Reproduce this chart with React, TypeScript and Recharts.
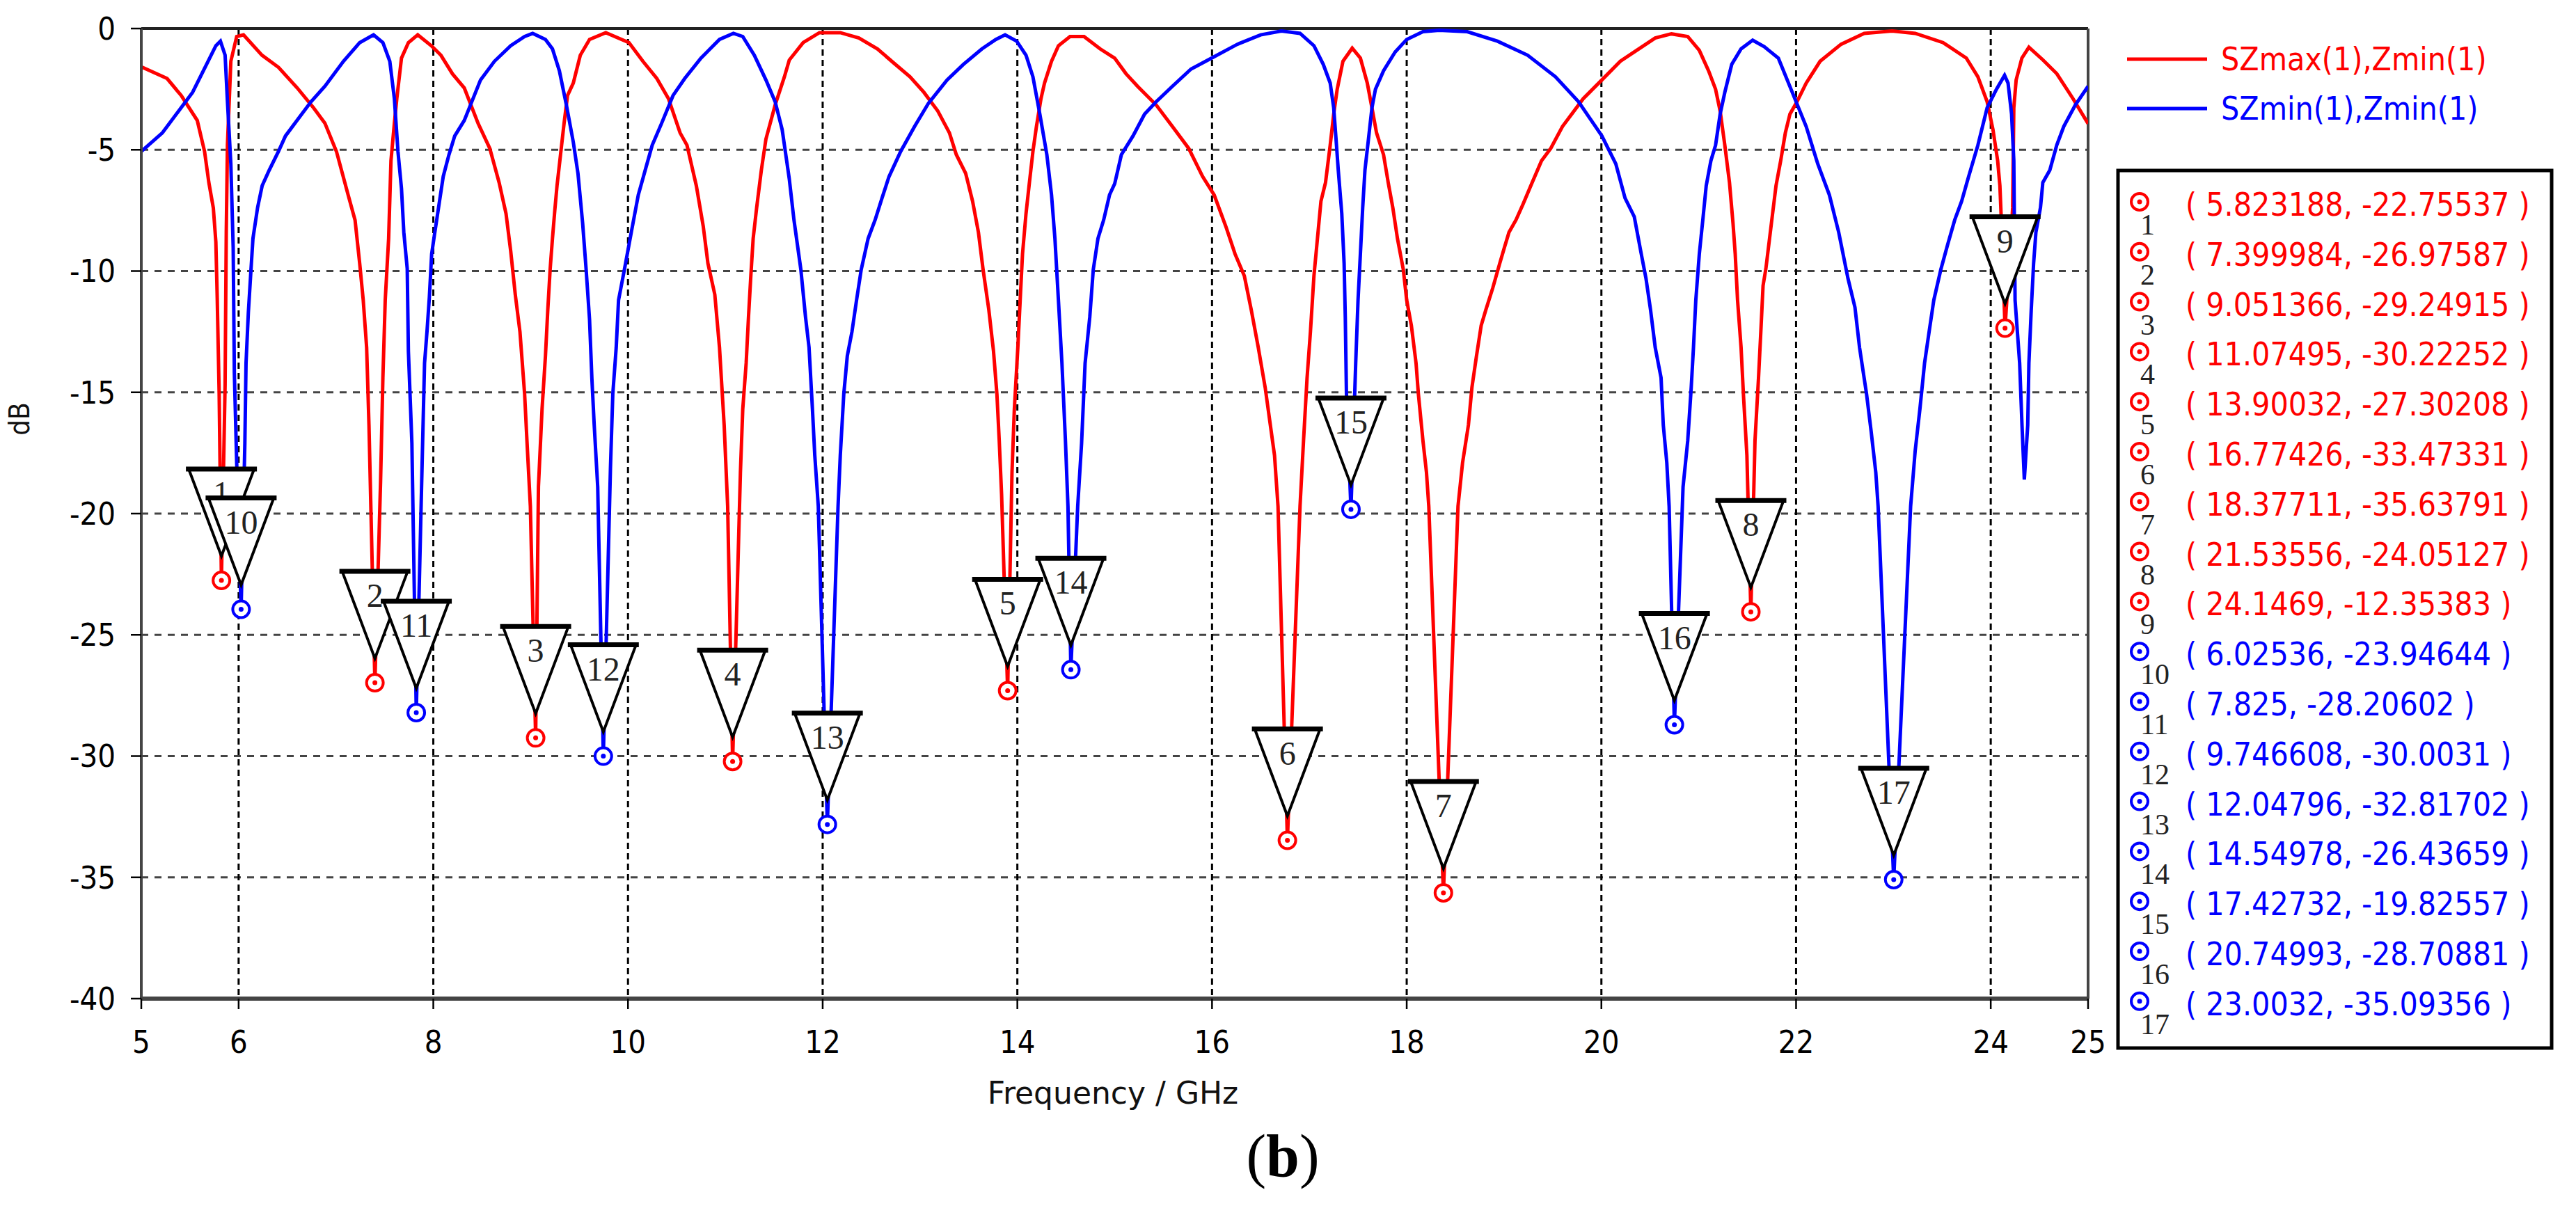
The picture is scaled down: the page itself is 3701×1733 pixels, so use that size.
import React from 'react';
import { ComposedChart, Line, Scatter, XAxis, YAxis, CartesianGrid, ReferenceLine } from 'recharts';

// ---- data (frequency GHz, dB) ----
const seriesNames = ['SZmax(1),Zmin(1)', 'SZmin(1),Zmin(1)'];
const seriesColors = ['#ff0000', '#0000ff'];

const redCurve: [number, number][] = [
  [5.0, -1.58], [5.265, -2.06], [5.41, -2.76], [5.575, -3.79], [5.65, -5.07], [5.694, -6.35], [5.74, -7.4],
  [5.766, -8.8], [5.78, -11.1], [5.8, -15.07], [5.823188, -22.75537], [5.861, -14.7], [5.873, -8.4],
  [5.885, -4.8], [5.92, -1.35], [5.98, -0.33], [6.05, -0.26], [6.24, -1.1], [6.41, -1.6], [6.6, -2.44],
  [6.77, -3.27], [6.886, -3.9], [7.005, -5.07], [7.125, -6.86], [7.196, -7.9], [7.244, -9.7], [7.28, -11.2],
  [7.315, -13.15], [7.339, -16.35], [7.399984, -26.97587], [7.458, -18.7], [7.482, -14.4], [7.506, -11.2],
  [7.541, -8.66], [7.565, -5.45], [7.6, -3.9], [7.625, -2.89], [7.673, -1.22], [7.744, -0.58], [7.84, -0.26],
  [7.98, -0.71], [8.078, -1.1], [8.197, -1.87], [8.318, -2.45], [8.461, -3.92], [8.58, -4.94], [8.676, -6.35],
  [8.747, -7.63], [8.795, -9.17], [8.842, -10.97], [8.89, -12.5], [8.938, -15.07], [8.962, -17], [8.997, -19.7],
  [9.051366, -29.24915], [9.08, -18.9], [9.117, -15.7], [9.152, -13.5], [9.176, -11.6], [9.2, -9.94],
  [9.224, -8.66], [9.248, -7.5], [9.271, -6.48], [9.307, -5.2], [9.343, -3.92], [9.379, -2.76], [9.438, -2.25],
  [9.51, -1.1], [9.605, -0.45], [9.772, -0.17], [10.01, -0.58], [10.153, -1.35], [10.296, -2.06],
  [10.416, -2.89], [10.535, -4.3], [10.606, -4.81], [10.702, -6.48], [10.773, -8.15], [10.821, -9.68],
  [10.892, -10.97], [10.94, -13.15], [10.988, -16.35], [11.024, -19.7], [11.07495, -30.22252], [11.155, -18.3],
  [11.179, -15.7], [11.214, -13.8], [11.238, -11.9], [11.262, -10.2], [11.286, -8.66], [11.322, -7.38],
  [11.37, -5.84], [11.417, -4.56], [11.512, -3.15], [11.607, -1.99], [11.657, -1.3], [11.8, -0.58],
  [11.967, -0.17], [12.181, -0.17], [12.372, -0.39], [12.563, -0.84], [12.73, -1.42], [12.897, -1.99],
  [13.04, -2.63], [13.183, -3.4], [13.302, -4.3], [13.373, -5.2], [13.469, -5.97], [13.54, -7.12], [13.6, -8.4],
  [13.648, -9.94], [13.707, -11.6], [13.755, -13.3], [13.79, -15.07], [13.814, -17], [13.838, -19.2],
  [13.90032, -27.30208], [13.945, -18.3], [13.969, -15.7], [14.005, -13.15], [14.029, -11.2], [14.053, -9.3],
  [14.089, -7.63], [14.124, -6.35], [14.16, -5.07], [14.196, -4.04], [14.243, -2.89], [14.279, -2.25],
  [14.351, -1.35], [14.422, -0.71], [14.541, -0.33], [14.685, -0.33], [14.851, -0.84], [15.0, -1.22],
  [15.116, -1.86], [15.235, -2.38], [15.426, -3.15], [15.593, -4.04], [15.76, -4.94], [15.903, -6.1],
  [16.022, -6.86], [16.141, -8.15], [16.237, -9.3], [16.332, -10.2], [16.403, -11.6], [16.475, -13.15],
  [16.546, -14.8], [16.594, -16.2], [16.642, -17.6], [16.678, -19.7], [16.77426, -33.47331], [16.904, -19.7],
  [16.94, -17], [16.976, -14.43], [17.011, -12.5], [17.047, -10.2], [17.083, -8.66], [17.119, -7.12],
  [17.166, -6.35], [17.214, -4.81], [17.25, -3.53], [17.286, -2.5], [17.345, -1.35], [17.44, -0.81],
  [17.524, -1.22], [17.595, -2.25], [17.643, -3.27], [17.69, -4.3], [17.762, -5.2], [17.81, -6.35],
  [17.857, -7.38], [17.905, -8.66], [17.965, -9.94], [18.0, -11.2], [18.048, -12.25], [18.096, -13.8],
  [18.12, -15.07], [18.167, -17], [18.203, -18.3], [18.227, -19.7], [18.37711, -35.63791], [18.527, -19.7],
  [18.574, -17.9], [18.634, -16.35], [18.67, -14.8], [18.717, -13.5], [18.765, -12.25], [18.813, -11.6],
  [18.884, -10.7], [18.956, -9.68], [19.003, -9.04], [19.051, -8.4], [19.123, -7.89], [19.194, -7.25],
  [19.289, -6.35], [19.385, -5.45], [19.48, -4.94], [19.6, -4.04], [19.695, -3.53], [19.814, -2.89],
  [20.005, -2.12], [20.195, -1.35], [20.362, -0.9], [20.553, -0.39], [20.72, -0.22], [20.887, -0.33],
  [21.006, -0.9], [21.101, -1.74], [21.173, -2.5], [21.22, -3.4], [21.268, -4.81], [21.316, -6.35],
  [21.352, -8.02], [21.375, -9.3], [21.399, -11.2], [21.435, -13.15], [21.459, -15.07], [21.495, -17.6],
  [21.53556, -24.05127], [21.578, -17], [21.614, -14.43], [21.638, -12.5], [21.661, -10.6], [21.69, -9.9],
  [21.747, -8.02], [21.794, -6.48], [21.842, -5.45], [21.89, -4.3], [21.937, -3.53], [22.009, -3.02],
  [22.104, -2.25], [22.247, -1.35], [22.462, -0.65], [22.7, -0.2], [22.986, -0.1], [23.224, -0.2],
  [23.51, -0.58], [23.749, -1.22], [23.868, -1.99], [23.963, -3.02], [24.023, -4.17], [24.071, -5.45],
  [24.094, -6.48], [24.106, -7.63], [24.1469, -12.35383], [24.225, -7.4], [24.237, -3.27], [24.261, -2.12],
  [24.32, -1.22], [24.392, -0.77], [24.535, -1.29], [24.678, -1.86], [24.845, -2.89], [25.0, -3.92],
];

const blueCurve: [number, number][] = [
  [5.0, -5.07], [5.217, -4.3], [5.384, -3.4], [5.527, -2.63], [5.67, -1.48], [5.766, -0.71], [5.813, -0.52],
  [5.861, -1.1], [5.885, -3.0], [5.92, -5.58], [5.944, -9.04], [5.956, -14.2], [5.98, -17.9],
  [6.02536, -23.94644], [6.064, -17.1], [6.076, -13.8], [6.1, -11.7], [6.123, -10.2], [6.147, -8.66],
  [6.195, -7.38], [6.242, -6.48], [6.314, -5.84], [6.409, -5.07], [6.481, -4.43], [6.6, -3.79], [6.743, -3.02],
  [6.886, -2.38], [7.077, -1.35], [7.244, -0.58], [7.386, -0.26], [7.482, -0.58], [7.553, -1.35], [7.6, -2.89],
  [7.637, -5.07], [7.673, -6.6], [7.697, -8.4], [7.732, -9.9], [7.744, -13.3], [7.78, -17.1], [7.825, -28.20602],
  [7.887, -17.6], [7.91, -13.8], [7.935, -12.5], [7.959, -11.1], [7.983, -9.3], [8.006, -8.66], [8.054, -7.38],
  [8.102, -6.1], [8.161, -5.2], [8.22, -4.43], [8.318, -3.79], [8.485, -2.12], [8.628, -1.35], [8.795, -0.71],
  [8.938, -0.33], [9.021, -0.2], [9.152, -0.45], [9.224, -0.84], [9.295, -1.74], [9.367, -3.15], [9.438, -4.68],
  [9.486, -5.97], [9.534, -8.02], [9.57, -9.94], [9.605, -12], [9.629, -14.43], [9.653, -16.35], [9.689, -18.9],
  [9.746608, -30.0031], [9.82, -18.1], [9.844, -15.07], [9.879, -13.15], [9.903, -11.2], [9.963, -9.94],
  [10.034, -8.4], [10.106, -6.86], [10.177, -5.84], [10.249, -4.81], [10.344, -3.92], [10.463, -2.76],
  [10.583, -2.06], [10.75, -1.22], [10.94, -0.45], [11.083, -0.2], [11.179, -0.33], [11.298, -1.1],
  [11.417, -2.12], [11.512, -3.02], [11.584, -4.17], [11.657, -6.2], [11.705, -7.89], [11.776, -9.94],
  [11.824, -11.9], [11.86, -13.15], [11.895, -15.7], [11.919, -17.6], [11.955, -19.7], [12.04796, -32.81702],
  [12.158, -19.7], [12.181, -17.6], [12.217, -15.07], [12.253, -13.5], [12.301, -12.5], [12.348, -11.2],
  [12.396, -9.94], [12.467, -8.66], [12.539, -7.89], [12.61, -6.99], [12.682, -6.1], [12.801, -5.07],
  [12.944, -4.04], [13.087, -3.08], [13.278, -2.12], [13.445, -1.48], [13.636, -0.84], [13.779, -0.45],
  [13.874, -0.26], [13.993, -0.52], [14.089, -1.1], [14.16, -1.99], [14.231, -3.53], [14.303, -5.2],
  [14.351, -6.86], [14.386, -8.66], [14.422, -11.2], [14.458, -13.8], [14.494, -17], [14.52, -19.7],
  [14.54978, -26.43659], [14.62, -19.7], [14.66, -17.1], [14.696, -13.8], [14.744, -11.9], [14.78, -9.94],
  [14.828, -8.66], [14.887, -7.89], [14.947, -6.86], [15.0, -6.4], [15.069, -5.2], [15.188, -4.43],
  [15.307, -3.53], [15.426, -3.02], [15.593, -2.38], [15.784, -1.67], [16.022, -1.16], [16.26, -0.65],
  [16.499, -0.26], [16.713, -0.1], [16.904, -0.2], [17.047, -0.71], [17.143, -1.48], [17.214, -2.25],
  [17.25, -3.27], [17.274, -4.56], [17.297, -5.84], [17.333, -7.63], [17.357, -9.68], [17.369, -11.9],
  [17.381, -15.07], [17.42732, -19.82557], [17.476, -13.8], [17.5, -11.2], [17.524, -9.3], [17.548, -7.38],
  [17.571, -5.84], [17.607, -4.56], [17.643, -3.27], [17.679, -2.5], [17.762, -1.74], [17.881, -0.97],
  [18.0, -0.45], [18.167, -0.13], [18.334, -0.07], [18.622, -0.13], [18.932, -0.52], [19.242, -1.1],
  [19.528, -1.99], [19.766, -3.02], [20.005, -4.43], [20.148, -5.58], [20.243, -6.99], [20.338, -7.76],
  [20.41, -9.3], [20.458, -10.3], [20.505, -11.6], [20.553, -13.15], [20.613, -14.4], [20.636, -16.35],
  [20.672, -17.9], [20.696, -19.7], [20.74993, -28.70881], [20.839, -18.9], [20.887, -17], [20.923, -14.8],
  [20.946, -13.15], [20.97, -11.2], [21.006, -9.3], [21.042, -7.89], [21.077, -6.48], [21.125, -5.45],
  [21.173, -4.81], [21.22, -3.53], [21.268, -2.63], [21.339, -1.48], [21.435, -0.84], [21.554, -0.48],
  [21.673, -0.75], [21.818, -1.22], [21.961, -2.63], [22.104, -4.04], [22.223, -5.58], [22.342, -6.86],
  [22.438, -8.4], [22.533, -10.3], [22.605, -11.5], [22.652, -13.15], [22.724, -15.07], [22.771, -16.6],
  [22.819, -18.3], [22.843, -19.7], [23.0032, -35.09356], [23.177, -19.7], [23.224, -17.4], [23.272, -15.7],
  [23.32, -13.8], [23.367, -12.5], [23.415, -11.2], [23.487, -9.94], [23.558, -8.9], [23.63, -7.89],
  [23.701, -7.12], [23.773, -6.1], [23.868, -4.81], [23.963, -3.27], [24.059, -2.5], [24.142, -1.93],
  [24.178, -2.25], [24.214, -3.53], [24.237, -5.45], [24.25, -11.2], [24.297, -13.8], [24.321, -16.35],
  [24.345, -18.6], [24.38, -16.35], [24.392, -13.8], [24.416, -11.6], [24.44, -9.7], [24.464, -8.4],
  [24.511, -7.38], [24.535, -6.35], [24.607, -5.84], [24.678, -4.81], [24.75, -4.04], [24.869, -3.15],
  [25.0, -2.38],
];

const markerIds = [1, 2, 3, 4, 5, 6, 7, 8, 9, 10, 11, 12, 13, 14, 15, 16, 17];
const markerFreq = [5.823188, 7.399984, 9.051366, 11.07495, 13.90032, 16.77426, 18.37711, 21.53556, 24.1469,
  6.02536, 7.825, 9.746608, 12.04796, 14.54978, 17.42732, 20.74993, 23.0032];
const markerDb = [-22.75537, -26.97587, -29.24915, -30.22252, -27.30208, -33.47331, -35.63791, -24.05127, -12.35383,
  -23.94644, -28.20602, -30.0031, -32.81702, -26.43659, -19.82557, -28.70881, -35.09356];
const markerSeries = [0, 0, 0, 0, 0, 0, 0, 0, 0, 1, 1, 1, 1, 1, 1, 1, 1];

const xTicks = [5, 6, 8, 10, 12, 14, 16, 18, 20, 22, 24, 25];
const yTicks = [0, -5, -10, -15, -20, -25, -30, -35, -40];
const xTitle = 'Frequency / GHz';
const yTitle = 'dB';
const caption = 'b';

// ---- derived tables ----
const redData = redCurve.map(([f, db]) => ({ f, db }));
const blueData = blueCurve.map(([f, db]) => ({ f, db }));
const markerData = markerIds.map((id, i) => ({ id, f: markerFreq[i], db: markerDb[i], s: markerSeries[i] }));

const W = 3701;
const H = 1733;
const SANS = '"DejaVu Sans Condensed", "DejaVu Sans", sans-serif';
const SERIF = '"Liberation Serif", "DejaVu Serif", serif';

const MarkerShape = (props: any) => {
  const { cx, cy, payload } = props;
  if (cx == null || cy == null) return null;
  const color = seriesColors[payload.s];
  const tip = cy - 35;
  const top = cy - 160;
  const hw = 47;
  return (
    <g>
      <polygon
        points={`${cx - hw},${top} ${cx + hw},${top} ${cx},${tip}`}
        fill="#ffffff"
        stroke="#000"
        strokeWidth={4}
        strokeLinejoin="miter"
      />
      <line x1={cx - hw - 4} x2={cx + hw + 4} y1={top} y2={top} stroke="#000" strokeWidth={7} />
      <text x={cx} y={top + 51} textAnchor="middle" fontFamily={SERIF} fontSize={48} fill="#222">
        {payload.id}
      </text>
      <circle cx={cx} cy={cy} r={12} fill="#ffffff" stroke={color} strokeWidth={4} />
      <circle cx={cx} cy={cy} r={3.5} fill={color} />
    </g>
  );
};

export default function App() {
  return (
    <div style={{ position: 'absolute', left: 0, top: 0, width: W, height: H, background: '#fff' }}>
      <div style={{ position: 'absolute', left: 0, top: 0 }}>
        <ComposedChart width={W} height={H} margin={{ top: 41, right: 701, bottom: 268, left: 143 }}>
          <CartesianGrid vertical={false} stroke="#444" strokeWidth={3} strokeDasharray="10 9" />
          <CartesianGrid horizontal={false} stroke="#000" strokeWidth={3} strokeDasharray="9 6" />
          <XAxis
            type="number"
            dataKey="f"
            domain={[5, 25]}
            ticks={xTicks}
            allowDataOverflow
            height={30}
            interval={0}
            tickSize={15}
            tickMargin={31}
            axisLine={{ stroke: '#444', strokeWidth: 6 }}
            tickLine={{ stroke: '#000', strokeWidth: 2.5 }}
            tick={{ fontFamily: SANS, fontSize: 45, fill: '#000' }}
          />
          <YAxis
            type="number"
            domain={[-40, 0]}
            ticks={yTicks}
            allowDataOverflow
            width={60}
            interval={0}
            tickSize={15}
            tickMargin={22}
            axisLine={{ stroke: '#444', strokeWidth: 4 }}
            tickLine={{ stroke: '#000', strokeWidth: 2.5 }}
            tick={{ fontFamily: SANS, fontSize: 45, fill: '#000' }}
          />
          <ReferenceLine y={0} stroke="#222" strokeWidth={4} />
          <ReferenceLine x={25} stroke="#444" strokeWidth={4} />
          <Line
            data={redData}
            dataKey="db"
            type="linear"
            stroke={seriesColors[0]}
            strokeWidth={5}
            dot={false}
            activeDot={false}
            isAnimationActive={false}
          />
          <Line
            data={blueData}
            dataKey="db"
            type="linear"
            stroke={seriesColors[1]}
            strokeWidth={5}
            dot={false}
            activeDot={false}
            isAnimationActive={false}
          />
          <Scatter data={markerData} dataKey="db" shape={MarkerShape} isAnimationActive={false} />
        </ComposedChart>
      </div>
      <svg
        width={W}
        height={H}
        style={{ position: 'absolute', left: 0, top: 0, pointerEvents: 'none' }}
      >
        {/* axis titles */}
        <text x={1599} y={1586} textAnchor="middle" fontFamily='"DejaVu Sans", sans-serif' fontSize={44} fill="#111">
          {xTitle}
        </text>
        <text
          x={0}
          y={0}
          transform="translate(42, 602) rotate(-90)"
          textAnchor="middle"
          fontFamily={SANS}
          fontSize={40}
          fill="#111"
        >
          {yTitle}
        </text>
        {/* legend */}
        {seriesNames.map((name, i) => (
          <g key={name}>
            <line x1={3056} x2={3171} y1={85 + i * 71} y2={85 + i * 71} stroke={seriesColors[i]} strokeWidth={5} />
            <text x={3191} y={101 + i * 71} fontFamily={SANS} fontSize={46} fill={seriesColors[i]}>
              {name}
            </text>
          </g>
        ))}
        {/* marker table */}
        <rect x={3043} y={245} width={623} height={1261} fill="#fff" stroke="#000" strokeWidth={5} />
        {markerData.map((m, i) => {
          const cy = 294 + i * 71.8;
          const color = seriesColors[m.s];
          return (
            <g key={m.id}>
              <circle cx={3074} cy={cy - 4} r={12} fill="none" stroke={color} strokeWidth={4} />
              <circle cx={3074} cy={cy - 4} r={3.5} fill={color} />
              <text x={3075} y={cy + 43} fontFamily={SERIF} fontSize={42} fill="#222">
                {m.id}
              </text>
              <text x={3140} y={cy + 16} fontFamily={SANS} fontSize={46} fill={color} style={{ whiteSpace: 'pre' }}>
                {`( ${m.f}, ${m.db} )`}
              </text>
            </g>
          );
        })}
        {/* caption */}
        <text x={1843} y={1690} textAnchor="middle" fontFamily={SERIF} fontSize={86} fill="#000">
          (<tspan fontWeight="bold">{caption}</tspan>)
        </text>
      </svg>
    </div>
  );
}
